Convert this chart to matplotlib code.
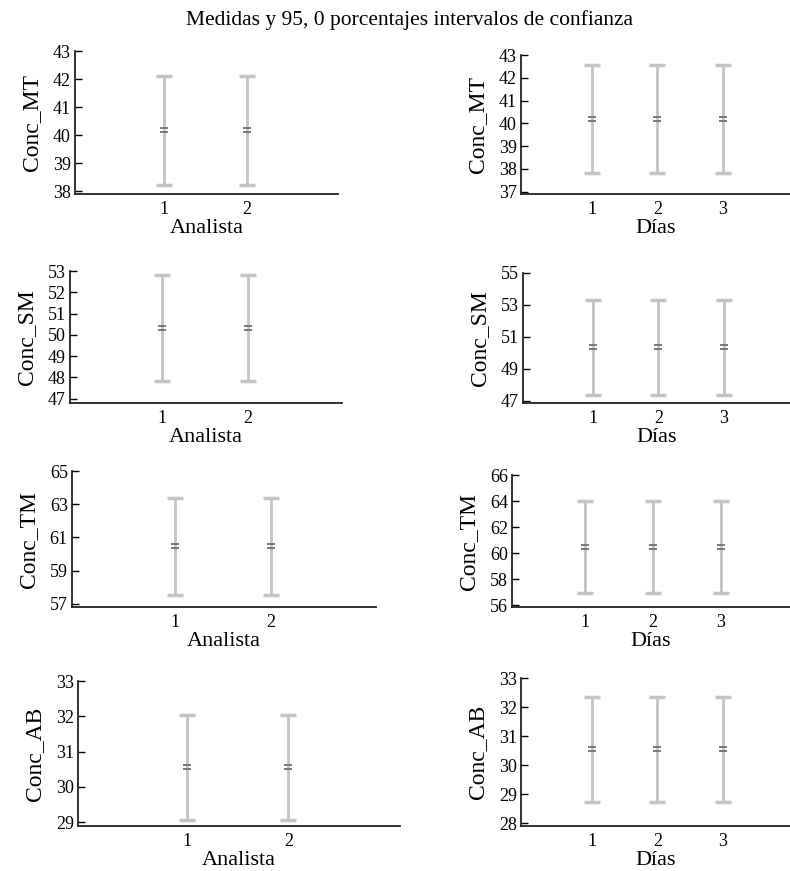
import matplotlib
matplotlib.use("Agg")
import matplotlib.pyplot as plt
import numpy as np
from matplotlib.path import Path

plt.rcParams['font.family'] = ['Liberation Serif', 'DejaVu Serif']

title = "Medidas y 95, 0 porcentajes intervalos de confianza"
variables = ["Conc_MT", "Conc_SM", "Conc_TM", "Conc_AB"]

analista_levels = [1, 2]
analista_mean = [40.2, 50.32, 60.45, 30.55]
analista_low = [38.23, 47.84, 57.52, 29.05]
analista_high = [42.1, 52.82, 63.35, 32.05]
analista_yticks = [[38, 39, 40, 41, 42, 43],
                   [47, 48, 49, 50, 51, 52, 53],
                   [57, 59, 61, 63, 65],
                   [29, 30, 31, 32, 33]]
analista_ylim = [(37.9, 43), (46.8, 53), (56.8, 65), (28.89, 33)]

dias_levels = [1, 2, 3]
dias_mean = [40.2, 50.33, 60.47, 30.55]
dias_low = [37.81, 47.35, 56.9, 28.74]
dias_high = [42.57, 53.3, 64.03, 32.34]
dias_yticks = [[37, 38, 39, 40, 41, 42, 43],
               [47, 49, 51, 53, 55],
               [56, 58, 60, 62, 64, 66],
               [28, 29, 30, 31, 32, 33]]
dias_ylim = [(36.9, 43), (46.85, 55), (55.85, 66), (27.9, 33)]

# axes rectangles in pixels: left, top, right, bottom
W, H = 790, 871
left_rects = [(75, 51, 338, 194), (70, 271, 342, 403), (72, 471, 376, 607), (78, 681, 400, 826)]
right_rects = [(521, 55, 790, 194), (523, 273, 790, 403), (512, 475, 790, 607), (521, 678, 790, 826)]

# "=" shaped mean marker
mean_marker = Path([(-1, 0.4), (1, 0.4), (-1, -0.4), (1, -0.4)],
                   [Path.MOVETO, Path.LINETO, Path.MOVETO, Path.LINETO])

fig = plt.figure(figsize=(W / 100, H / 100), dpi=100)
fig.text(410 / W, 1 - 20 / H, title, ha='center', va='center', fontsize=15.5)


def draw_panel(rect, levels, mean, low, high, yticks, ylim, xlabel, ylabel, xlim):
    l, t, r, b = rect
    ax = fig.add_axes([l / W, 1 - b / H, (r - l) / W, (b - t) / H])
    x = np.array(levels)
    m = np.full(len(levels), mean)
    err = np.array([[mean - low] * len(levels), [high - mean] * len(levels)])
    ax.errorbar(x, m, yerr=err, fmt='none', ecolor='#c3c3c3', elinewidth=2,
                capsize=5.8, capthick=2.5)
    ax.plot(x, m, linestyle='none', marker=mean_marker, markersize=5.5,
            markeredgewidth=1.3, color='#6e6e6e')
    ax.set_xlim(*xlim)
    ax.set_ylim(*ylim)
    ax.set_xticks(levels)
    ax.set_yticks(yticks)
    ax.tick_params(axis='x', length=0, labelsize=13, pad=5)
    ax.tick_params(axis='y', direction='in', length=5, width=1, labelsize=13, pad=3)
    for s in ['top', 'right']:
        ax.spines[s].set_visible(False)
    for s in ['left', 'bottom']:
        ax.spines[s].set_linewidth(1.3)
        ax.spines[s].set_color('#222222')
    ax.set_xlabel(xlabel, fontsize=16, labelpad=0.5)
    ax.set_ylabel(ylabel, fontsize=17, labelpad=8)
    ax.set_facecolor('none')
    return ax


for i, var in enumerate(variables):
    draw_panel(left_rects[i], analista_levels, analista_mean[i], analista_low[i],
               analista_high[i], analista_yticks[i], analista_ylim[i],
               "Analista", var, (-0.07, 3.1))
    draw_panel(right_rects[i], dias_levels, dias_mean[i], dias_low[i],
               dias_high[i], dias_yticks[i], dias_ylim[i],
               "Días", var, (-0.08, 4.02))

fig.savefig("out.png", dpi=100)
